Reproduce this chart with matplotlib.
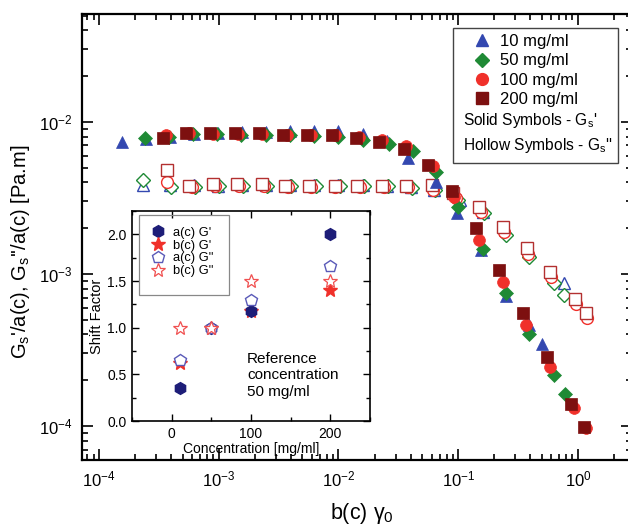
import numpy as np
import matplotlib
matplotlib.use('Agg')
from matplotlib import pyplot as plt
from matplotlib.lines import Line2D
from matplotlib.patches import Rectangle
from matplotlib.ticker import MultipleLocator, LogLocator, NullFormatter, FormatStrFormatter

plt.rcParams['font.family'] = ['Liberation Sans', 'DejaVu Sans']
plt.rcParams['mathtext.fontset'] = 'custom'
plt.rcParams['mathtext.rm'] = 'Liberation Sans'
plt.rcParams['mathtext.it'] = 'Liberation Sans:italic'
plt.rcParams['mathtext.default'] = 'regular'

# ---- main plot: solid symbols G_s'
x10_s = [1.56e-4, 2.47e-4, 3.93e-4, 6.24e-4, 9.90e-4, 1.57e-3, 2.49e-3, 3.96e-3, 6.30e-3, 1.00e-2,
         1.59e-2, 2.52e-2, 3.78e-2, 6.49e-2, 9.70e-2, 0.154, 0.249, 0.389, 0.500]
y10_s = [7.38e-3, 7.73e-3, 7.97e-3, 8.34e-3, 8.47e-3, 8.60e-3, 8.60e-3, 8.73e-3, 8.73e-3, 8.73e-3,
         8.34e-3, 7.50e-3, 5.80e-3, 4.03e-3, 2.52e-3, 1.44e-3, 7.16e-4, 4.61e-4, 3.46e-4]
x50_s = [2.43e-4, 3.85e-4, 6.12e-4, 9.70e-4, 1.54e-3, 2.49e-3, 3.96e-3, 6.30e-3, 1.00e-2, 1.59e-2,
         2.62e-2, 4.16e-2, 6.49e-2, 9.91e-2, 0.160, 0.249, 0.389, 0.630, 0.778]
y50_s = [7.85e-3, 7.97e-3, 8.34e-3, 8.34e-3, 8.20e-3, 8.20e-3, 8.20e-3, 8.09e-3, 7.97e-3, 7.61e-3,
         7.16e-3, 6.44e-3, 4.69e-3, 2.76e-3, 1.46e-3, 7.50e-4, 4.03e-4, 2.17e-4, 1.63e-4]
x100_s = [3.64e-4, 5.66e-4, 8.99e-4, 1.46e-3, 2.31e-3, 3.74e-3, 5.94e-3, 9.44e-3, 1.47e-2, 2.33e-2,
          3.64e-2, 6.12e-2, 9.16e-2, 0.149, 0.236, 0.367, 0.583, 0.927, 1.17]
y100_s = [8.20e-3, 8.47e-3, 8.34e-3, 8.34e-3, 8.34e-3, 8.20e-3, 8.20e-3, 8.20e-3, 7.97e-3, 7.61e-3,
          6.95e-3, 5.14e-3, 3.21e-3, 1.67e-3, 8.86e-4, 4.61e-4, 2.44e-4, 1.31e-4, 9.7e-5]
x200_s = [3.44e-4, 5.35e-4, 8.49e-4, 1.37e-3, 2.18e-3, 3.47e-3, 5.51e-3, 8.91e-3, 1.39e-2, 2.16e-2,
          3.50e-2, 5.56e-2, 8.83e-2, 0.140, 0.218, 0.347, 0.551, 0.873, 1.12]
y200_s = [7.85e-3, 8.47e-3, 8.47e-3, 8.47e-3, 8.47e-3, 8.20e-3, 8.20e-3, 8.20e-3, 7.85e-3, 7.38e-3,
          6.64e-3, 5.21e-3, 3.52e-3, 2.01e-3, 1.06e-3, 5.53e-4, 2.84e-4, 1.40e-4, 9.8e-5]

# ---- main plot: hollow symbols G_s''
x10_h = [2.33e-4, 3.93e-4, 6.24e-4, 9.90e-4, 1.57e-3, 2.49e-3, 3.96e-3, 6.30e-3, 1.00e-2, 1.59e-2,
         2.52e-2, 4.01e-2, 6.24e-2, 0.103, 0.160, 0.245, 0.389, 0.764]
y10_h = [3.85e-3, 3.85e-3, 3.85e-3, 3.79e-3, 3.85e-3, 3.85e-3, 3.85e-3, 3.85e-3, 3.85e-3, 3.85e-3,
         3.79e-3, 3.73e-3, 3.57e-3, 3.07e-3, 2.56e-3, 2.01e-3, 1.44e-3, 8.73e-4]
x50_h = [2.33e-4, 4.01e-4, 6.36e-4, 1.01e-3, 1.60e-3, 2.55e-3, 4.05e-3, 6.43e-3, 1.02e-2, 1.62e-2,
         2.57e-2, 4.09e-2, 6.35e-2, 9.91e-2, 0.163, 0.249, 0.389, 0.630, 0.764]
y50_h = [4.15e-3, 3.73e-3, 3.73e-3, 3.79e-3, 3.79e-3, 3.79e-3, 3.79e-3, 3.79e-3, 3.79e-3, 3.79e-3,
         3.79e-3, 3.68e-3, 3.57e-3, 3.07e-3, 2.52e-3, 1.81e-3, 1.29e-3, 8.73e-4, 7.28e-4]
x100_h = [3.71e-4, 6.00e-4, 9.35e-4, 1.49e-3, 2.41e-3, 3.82e-3, 5.94e-3, 9.44e-3, 1.50e-2, 2.38e-2,
          3.78e-2, 6.12e-2, 9.53e-2, 0.154, 0.240, 0.382, 0.594, 0.962, 1.19]
y100_h = [4.03e-3, 3.73e-3, 3.79e-3, 3.79e-3, 3.79e-3, 3.73e-3, 3.73e-3, 3.73e-3, 3.73e-3, 3.73e-3,
          3.73e-3, 3.57e-3, 3.16e-3, 2.56e-3, 1.89e-3, 1.36e-3, 9.55e-4, 6.36e-4, 5.14e-4]
x200_h = [3.71e-4, 5.66e-4, 8.99e-4, 1.43e-3, 2.31e-3, 3.60e-3, 5.71e-3, 9.27e-3, 1.44e-2, 2.33e-2,
          3.64e-2, 6.00e-2, 8.99e-2, 0.149, 0.236, 0.374, 0.583, 0.944, 1.17]
y200_h = [4.83e-3, 3.79e-3, 3.91e-3, 3.91e-3, 3.91e-3, 3.79e-3, 3.79e-3, 3.79e-3, 3.79e-3, 3.79e-3,
          3.79e-3, 3.85e-3, 3.41e-3, 2.76e-3, 2.04e-3, 1.48e-3, 1.03e-3, 6.86e-4, 5.53e-4]

conc_labels = ['10 mg/ml', '50 mg/ml', '100 mg/ml', '200 mg/ml']

# ---- inset: shift factors
conc = [10, 50, 100, 200]
a_Gp = [0.35, 1.0, 1.18, 2.0]
b_Gp = [0.62, 1.0, 1.18, 1.40]
a_Gpp = [0.65, 1.0, 1.30, 1.66]
b_Gpp = [1.0, 1.0, 1.50, 1.50]

c_blue = '#3348b0'
c_green = '#1f8a35'
c_red = '#f0302a'
c_brown = '#7d1010'

fig = plt.figure(figsize=(6.28, 5.27), dpi=100)
ax = fig.add_axes([0.1306, 0.1271, 0.8755, 0.8463])

series_s = [(x10_s, y10_s, '^', c_blue, 9), (x50_s, y50_s, 'D', c_green, 7),
            (x100_s, y100_s, 'o', c_red, 8.5), (x200_s, y200_s, 's', c_brown, 8)]
series_h = [(x10_h, y10_h, '^', c_blue, 9), (x50_h, y50_h, 'D', c_green, 7),
            (x100_h, y100_h, 'o', c_red, 8.5), (x200_h, y200_h, 's', '#b33030', 8)]

for xs, ys, m, c, ms in series_h:
    ax.plot(xs, ys, ls='none', marker=m, ms=ms, mfc='white', mec=c, mew=1.0)
for xs, ys, m, c, ms in series_s:
    ax.plot(xs, ys, ls='none', marker=m, ms=ms, mfc=c, mec=c, mew=0.5)

ax.set_xscale('log')
ax.set_yscale('log')
ax.set_xlim(10**-4.142, 10**0.45)
ax.set_ylim(10**-4.224, 10**-1.29)
ax.xaxis.set_minor_locator(LogLocator(base=10, subs=np.arange(2, 10), numticks=20))
ax.yaxis.set_minor_locator(LogLocator(base=10, subs=np.arange(2, 10), numticks=20))
ax.xaxis.set_minor_formatter(NullFormatter())
ax.yaxis.set_minor_formatter(NullFormatter())
ax.tick_params(which='both', direction='in', top=True, right=True, width=1.2, labelsize=12)
ax.tick_params(which='major', length=8, pad=7)
ax.tick_params(which='minor', length=4.5)
for sp in ax.spines.values():
    sp.set_linewidth(1.6)

ax.set_xlabel('b(c) γ$_0$', fontsize=15.5)
ax.xaxis.set_label_coords(0.51, -0.093)
ax.set_ylabel("G$_s$'/a(c), G$_s$''/a(c) [Pa.m]", fontsize=14.5)
ax.yaxis.set_label_coords(-0.091, 0.466)

# main legend
handles = [Line2D([], [], ls='none', marker=m, ms=ms, mfc=c, mec=c) for _, _, m, c, ms in series_s]
leg = ax.legend(handles, conc_labels, loc='upper left', bbox_to_anchor=(0.705, 0.962),
                frameon=False, fontsize=12, labelspacing=0.25, handletextpad=0.55,
                borderaxespad=0, borderpad=0.2, handlelength=1.1)
ax.add_patch(Rectangle((0.675, 0.666), 0.30, 0.303, transform=ax.transAxes,
                       fill=False, ec='#444444', lw=1.0, zorder=5))
ax.text(0.693, 0.762, "Solid Symbols - G$_s$'", transform=ax.transAxes,
        fontsize=11.2, va='center')
ax.text(0.693, 0.706, "Hollow Symbols - G$_s$''", transform=ax.transAxes,
        fontsize=11.2, va='center')

# ---- inset
axi = fig.add_axes([0.2102, 0.2011, 0.379, 0.3985])
axi.plot(conc, b_Gp, ls='none', marker='*', ms=10, mfc=c_red, mec=c_red, zorder=2,
         label='b(c) G\'')
axi.plot(conc, a_Gp, ls='none', marker='h', ms=8.5, mfc='#1d1d78', mec='#1d1d78', zorder=3,
         label='a(c) G\'')
axi.plot(conc, a_Gpp, ls='none', marker='p', ms=9, mfc='white', mec='#5a5ab8', mew=1.0,
         zorder=4, label='a(c) G"')
axi.plot(conc, b_Gpp, ls='none', marker='*', ms=10, mfc='white', mec='#f05050', mew=0.9,
         zorder=5, label='b(c) G"')
h, l = axi.get_legend_handles_labels()
order = [1, 0, 2, 3]
li = axi.legend([h[i] for i in order], [l[i] for i in order], loc='upper left',
                bbox_to_anchor=(0.076, 0.925), fontsize=9.3, frameon=False,
                labelspacing=0.06, handletextpad=0.55, borderpad=0, borderaxespad=0,
                handlelength=1.2)
axi.add_patch(Rectangle((0.029, 0.60), 0.379, 0.381, transform=axi.transAxes,
                        fill=False, ec='#888888', lw=0.9, zorder=6))

axi.set_xlim(-50, 250)
axi.set_ylim(0, 2.25)
axi.xaxis.set_major_locator(MultipleLocator(100))
axi.xaxis.set_minor_locator(MultipleLocator(50))
axi.yaxis.set_major_locator(MultipleLocator(0.5))
axi.yaxis.set_minor_locator(MultipleLocator(0.25))
axi.yaxis.set_major_formatter(FormatStrFormatter('%.1f'))
axi.tick_params(which='both', direction='in', top=True, right=True, width=1.0, labelsize=10)
axi.tick_params(which='major', length=5, pad=4)
axi.tick_params(which='minor', length=3)
for sp in axi.spines.values():
    sp.set_linewidth(1.2)
axi.set_xlabel('Concentration [mg/ml]', fontsize=10, labelpad=1)
axi.set_ylabel('Shift Factor', fontsize=10.5, labelpad=2)
axi.text(95, 0.49, 'Reference\nconcentration\n50 mg/ml', fontsize=11, va='center',
         ha='left', linespacing=1.25)

fig.savefig('out.png', dpi=100)
